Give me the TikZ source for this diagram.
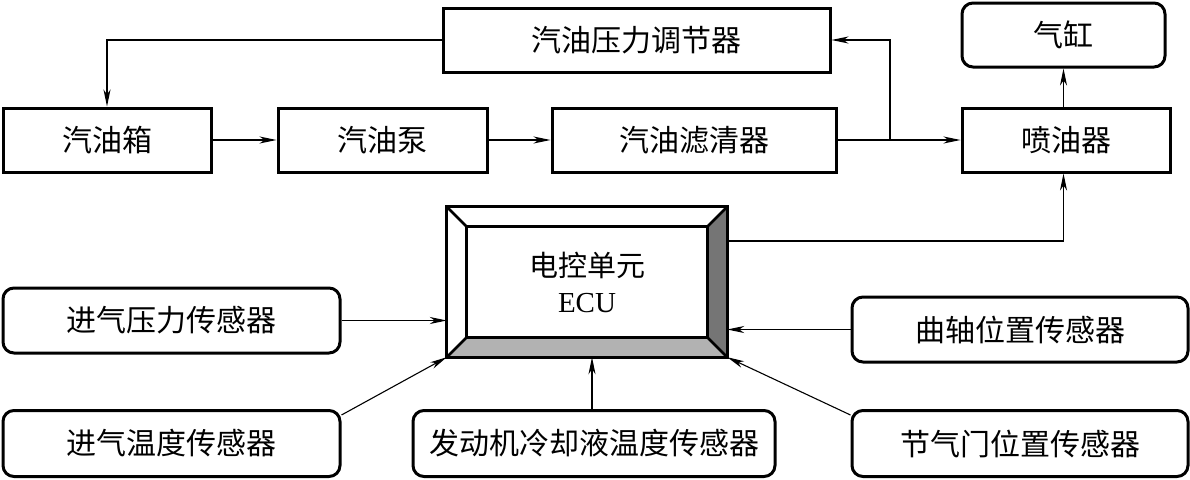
\documentclass[tikz,border=0pt]{standalone}
\usepackage{fontspec}
\setmainfont{Liberation Serif}
\newfontfamily\cjk{Noto Sans CJK SC}
\usetikzlibrary{arrows.meta,calc}
\begin{document}
\begin{tikzpicture}[x=1pt,y=-1pt,
  box/.style={draw,line width=3pt,inner sep=0pt,font=\cjk\fontsize{30}{34}\selectfont},
  rbox/.style={box,rounded corners=11pt},
  conn/.style={line width=1.1pt,-{Stealth[length=17pt,width=7pt,inset=5pt]}},
  plain/.style={line width=1.1pt}]
\useasboundingbox (0,0) rectangle (1190,479);
% top rows
\node[box,minimum width=387pt,minimum height=64pt] (reg) at (636.5,40) {汽油压力调节器};
\node[rbox,minimum width=203pt,minimum height=64pt] (cyl) at (1063.5,35) {气缸};
\node[box,minimum width=208pt,minimum height=64pt] (tank) at (107,140) {汽油箱};
\node[box,minimum width=209pt,minimum height=64pt] (pump) at (382.5,140) {汽油泵};
\node[box,minimum width=284pt,minimum height=64pt] (filter) at (694,140) {汽油滤清器};
\node[box,minimum width=208pt,minimum height=64pt] (inj) at (1066,140) {喷油器};
% ECU
\node[minimum width=280pt,minimum height=150pt,inner sep=0pt] (ecu) at (587,282) {};
\node[minimum width=240pt,minimum height=110pt,inner sep=0pt,align=center,
  font=\fontsize{29}{36}\selectfont] (ecuin) at (587,282)
  {{\cjk 电控单元}\\ECU};
\fill[gray!45!black!70] (ecu.north east) -- (ecuin.north east) -- (ecuin.south east) -- (ecu.south east) -- cycle;
\fill[black!30] (ecu.south west) -- (ecuin.south west) -- (ecuin.south east) -- (ecu.south east) -- cycle;
\draw[line width=3pt] (ecu.north west) rectangle (ecu.south east);
\draw[line width=3pt] (ecuin.north west) rectangle (ecuin.south east);
\draw[line width=2.5pt] (ecu.north west) -- (ecuin.north west)
  (ecu.north east) -- (ecuin.north east)
  (ecu.south west) -- (ecuin.south west)
  (ecu.south east) -- (ecuin.south east);
% sensors
\node[rbox,minimum width=337pt,minimum height=65pt] (ps) at (171.5,320.5) {进气压力传感器};
\node[rbox,minimum width=337pt,minimum height=66pt] (ts) at (171.5,443.5) {进气温度传感器};
\node[rbox,minimum width=362pt,minimum height=66pt] (cs) at (594,443.5) {发动机冷却液温度传感器};
\node[rbox,minimum width=336pt,minimum height=65pt] (crank) at (1020,329.5) {曲轴位置传感器};
\node[rbox,minimum width=336pt,minimum height=66pt] (thr) at (1020,443.5) {节气门位置传感器};
% fuel connectors
\draw[conn] (tank.east) -- (pump.west);
\draw[conn] (pump.east) -- (filter.west);
\draw[conn] (filter.east) -- (inj.west);
\coordinate (br) at (890,140);
\draw[conn] (br) |- (reg.east);
\draw[conn] (reg.west) -| (tank.north);
\draw[conn] (cyl.south |- inj.north) -- (cyl.south);
\coordinate (ecuout) at (727,241);
\draw[conn] (ecuout) -| (cyl.south |- inj.south);
% sensor connectors
\draw[conn] (ps.east) -- (ps.east -| ecu.west);
\draw[conn] (crank.west) -- (crank.west -| ecu.east);
\draw[conn] ($(ts.north east)+(0,6)$) -- (ecu.south west);
\draw[conn] ($(thr.north west)+(0,6)$) -- (ecu.south east);
\draw[conn] (cs.north -| 592,0) -- (ecu.south -| 592,0);
\end{tikzpicture}
\end{document}
